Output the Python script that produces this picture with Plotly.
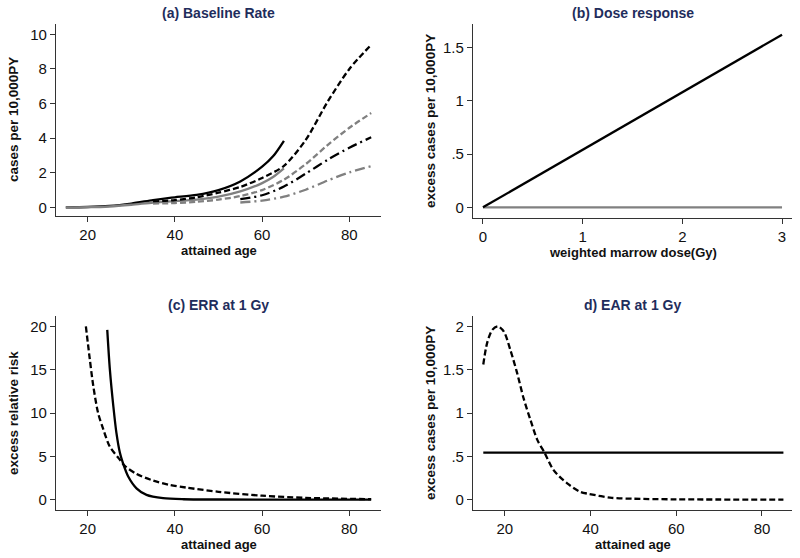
import plotly.graph_objects as go

# ---------------- data ----------------
# (a) Baseline rate
age_a_young = [15, 20, 25, 30, 35, 38, 40, 45, 50, 55, 60, 62.5, 65]
rate_black_solid = [0, 0.02, 0.08, 0.22, 0.42, 0.52, 0.58, 0.72, 1.0, 1.5, 2.35, 2.95, 3.85]
rate_gray_solid = [0, 0.01, 0.05, 0.15, 0.28, 0.33, 0.36, 0.45, 0.62, 0.92, 1.4, 1.75, 2.25]
age_a_mid = [35, 40, 45, 50, 55, 60, 65, 70, 75, 80, 85]
rate_black_dash = [0.33, 0.42, 0.58, 0.85, 1.18, 1.7, 2.4, 3.9, 6.1, 8.0, 9.4]
rate_gray_dash = [0.22, 0.25, 0.32, 0.45, 0.65, 1.0, 1.6, 2.5, 3.6, 4.6, 5.45]
age_a_old = [55, 60, 65, 70, 75, 80, 85]
rate_black_dashdot = [0.48, 0.7, 1.2, 1.95, 2.75, 3.45, 4.05]
rate_gray_dashdot = [0.28, 0.39, 0.62, 1.02, 1.55, 2.02, 2.38]

# (b) Dose response
dose = [0, 3]
excess_black = [0, 1.62]
excess_gray = [0, 0]

# (c) ERR at 1 Gy
age_c_dash = [19.6, 20.5, 21.3, 22.4, 23.6, 25.1, 27.4, 28.5, 31.2, 35, 38.8, 42.6, 50, 60, 70, 85]
err_dash = [20, 16.2, 13.1, 10, 8.1, 6.1, 4.6, 3.9, 2.97, 2.2, 1.7, 1.39, 0.9, 0.45, 0.2, 0.05]
age_c_solid = [24.5, 25.1, 25.9, 26.6, 27.4, 28.1, 29.3, 31.2, 33.5, 37.3, 42, 50, 85]
err_solid = [19.6, 15, 10.75, 7.7, 5.4, 4.2, 2.66, 1.3, 0.54, 0.16, 0.04, 0.01, 0]

# (d) EAR at 1 Gy
age_d_dash = [15, 15.9, 17.1, 18.4, 19.8, 21.3, 22.9, 24.4, 26, 27.6, 29.3, 31.4, 34.5, 37.6, 39.6, 45, 50, 60, 85]
ear_dash = [1.56, 1.81, 1.96, 2.0, 1.94, 1.73, 1.46, 1.17, 0.92, 0.69, 0.54, 0.34, 0.19, 0.09, 0.066, 0.02, 0.01, 0.003, 0]
age_d_solid = [15, 85]
ear_solid = [0.543, 0.543]

age_ticks = [20, 40, 60, 80]
dose_ticks = [0, 1, 2, 3]
a_yticks = [0, 2, 4, 6, 8, 10]
b_yticks = [0, 0.5, 1, 1.5]
b_yticklabels = ["0", ".5", "1", "1.5"]
c_yticks = [0, 5, 10, 15, 20]
d_yticks = [0, 0.5, 1, 1.5, 2]
d_yticklabels = ["0", ".5", "1", "1.5", "2"]

titles = ["(a) Baseline Rate", "(b) Dose response", "(c) ERR at 1 Gy", "d) EAR at 1 Gy"]
xtitles = ["attained age", "weighted marrow dose(Gy)", "attained age", "attained age"]
ytitles = ["cases per 10,000PY", "excess cases per 10,000PY", "excess relative risk",
           "excess cases per 10,000PY"]

# ---------------- figure ----------------
W, H = 800, 558
BLACK = "#000000"
GRAY = "#808080"
LW = 2.3
DASH = "6px,3px"
DASHDOT = "10px,4px,2px,4px"

fig = go.Figure()

def add(x, y, color, dash, xa, ya, shape="spline"):
    fig.add_trace(go.Scatter(x=x, y=y, mode="lines", xaxis=xa, yaxis=ya,
                             line=dict(color=color, width=LW, dash=dash, shape=shape, smoothing=0.8),
                             showlegend=False, hoverinfo="skip"))

# (a)
add(age_a_young, rate_black_solid, BLACK, "solid", "x", "y")
add(age_a_young, rate_gray_solid, GRAY, "solid", "x", "y")
add(age_a_mid, rate_black_dash, BLACK, DASH, "x", "y")
add(age_a_mid, rate_gray_dash, GRAY, DASH, "x", "y")
add(age_a_old, rate_black_dashdot, BLACK, DASHDOT, "x", "y")
add(age_a_old, rate_gray_dashdot, GRAY, DASHDOT, "x", "y")
# (b)
add(dose, excess_gray, GRAY, "solid", "x2", "y2", "linear")
add(dose, excess_black, BLACK, "solid", "x2", "y2", "linear")
# (c)
add(age_c_dash, err_dash, BLACK, DASH, "x3", "y3")
add(age_c_solid, err_solid, BLACK, "solid", "x3", "y3")
# (d)
add(age_d_dash, ear_dash, BLACK, DASH, "x4", "y4")
add(age_d_solid, ear_solid, BLACK, "solid", "x4", "y4", "linear")

def px_x(p):
    return p / W

def px_y(p):
    return 1 - p / H

# pixel boxes: (left, right, top, bottom)
boxes = [(56, 381, 24, 216), (473, 792, 24, 218), (56, 381, 316, 510), (473, 792, 316, 510)]
xranges = [[12.75, 87.25], [-0.1, 3.1], [12.75, 87.25], [12.6, 87.0]]
yranges = [[-0.5, 10.6], [-0.1, 1.72], [-1.2, 21.2], [-0.12, 2.12]]
xtickv = [age_ticks, dose_ticks, age_ticks, age_ticks]
ytickv = [a_yticks, b_yticks, c_yticks, d_yticks]
ytickt = [[str(v) for v in a_yticks], b_yticklabels, [str(v) for v in c_yticks], d_yticklabels]

axis_common = dict(showline=True, linecolor="#333333", linewidth=1.2, ticks="outside",
                   ticklen=5, tickcolor="#333333", tickwidth=1.2, showgrid=False, zeroline=False,
                   tickfont=dict(family="Liberation Sans, Arial", size=15, color="#111111"))

layout = dict(width=W, height=H, margin=dict(l=0, r=0, t=0, b=0),
              paper_bgcolor="white", plot_bgcolor="white", showlegend=False)
annotations = []
for i in range(4):
    l, r, t, b = boxes[i]
    sx = "" if i == 0 else str(i + 1)
    layout["xaxis" + sx] = dict(axis_common, domain=[px_x(l), px_x(r)], range=xranges[i],
                                tickvals=xtickv[i], ticktext=[str(v) for v in xtickv[i]],
                                anchor="y" + sx)
    layout["yaxis" + sx] = dict(axis_common, domain=[px_y(b), px_y(t)], range=yranges[i],
                                tickvals=ytickv[i], ticktext=ytickt[i], anchor="x" + sx,
                                tickangle=0)
    cx = (l + r) / 2
    cy = (t + b) / 2
    # title
    annotations.append(dict(text="<b>" + titles[i] + "</b>", x=px_x(cx), y=px_y(t - 11.5),
                            xref="paper", yref="paper", showarrow=False, xanchor="center",
                            yanchor="middle",
                            font=dict(family="Liberation Sans, Arial", size=14, color="#1f2d5c")))
    # x title
    annotations.append(dict(text="<b>" + xtitles[i] + "</b>", x=px_x(cx), y=px_y(b + 34),
                            xref="paper", yref="paper", showarrow=False, xanchor="center",
                            yanchor="middle",
                            font=dict(family="Liberation Sans, Arial", size=13, color="#111111")))
    # y title
    annotations.append(dict(text="<b>" + ytitles[i] + "</b>", x=px_x(l - 43), y=px_y(cy),
                            xref="paper", yref="paper", showarrow=False, xanchor="center",
                            yanchor="middle", textangle=-90,
                            font=dict(family="Liberation Sans, Arial", size=13.5, color="#111111")))
layout["annotations"] = annotations
fig.update_layout(**layout)

fig.write_html("out.html", config={"displayModeBar": False},
               post_script="document.body.style.margin='0';")
